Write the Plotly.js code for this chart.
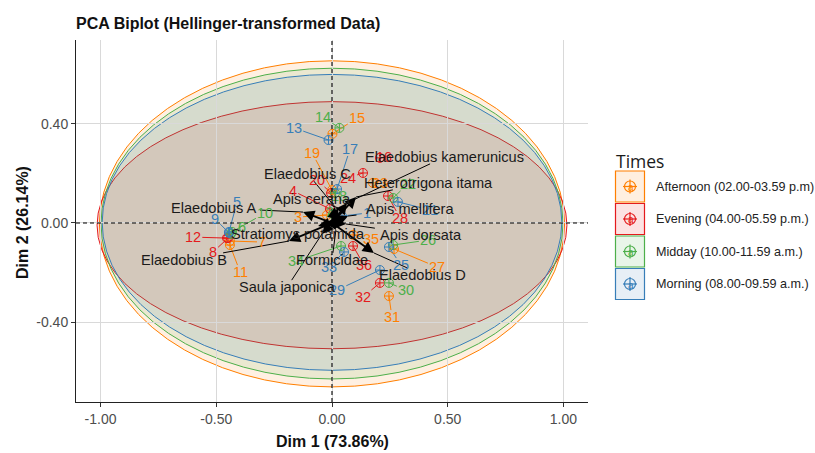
<!DOCTYPE html>
<html><head><meta charset="utf-8">
<script src="https://cdn.plot.ly/plotly-3.0.1.min.js"></script>
<style>body{margin:0;background:#fff}#chart{width:815px;height:453px}</style>
</head><body><div id="chart"></div>
<script>
// ---------- data ----------
const groupKeys = ['Afternoon','Evening','Midday','Morning'];
const groupNames = ['Afternoon (02.00-03.59 p.m)','Evening (04.00-05.59 p.m.)','Midday (10.00-11.59 a.m.)','Morning (08.00-09.59 a.m.)'];
const groupColors = ['#FF7F00','#E41A1C','#4DAF4A','#377EB8'];

const indId = [1,2,3,4,5,6,7,8,9,10,11,12,13,14,15,16,17,18,19,20,21,22,23,24,25,26,27,28,29,30,31,32,33,34,35,36];
const indGroup = ['Morning','Midday','Afternoon','Evening','Morning','Midday','Afternoon','Evening','Morning','Midday','Afternoon','Evening',
  'Morning','Midday','Afternoon','Evening','Morning','Midday','Afternoon','Evening','Morning','Midday','Afternoon','Evening',
  'Morning','Midday','Afternoon','Evening','Morning','Midday','Afternoon','Evening','Morning','Midday','Afternoon','Evening'];
const indX = [0.043,0.004,-0.022,-0.009,-0.445,-0.436,-0.441,-0.449,-0.445,-0.432,-0.441,-0.454,
  -0.015,0.032,0.002,0.207,0.022,0.013,0.000,-0.004,0.285,0.264,0.177,0.134,
  0.246,0.264,0.268,0.242,0.207,0.246,0.246,0.207,0.052,0.039,0.091,0.091];
const indY = [0.028,0.036,0.032,0.057,-0.036,-0.044,-0.073,-0.061,-0.040,-0.036,-0.089,-0.061,
  0.335,0.384,0.360,0.263,0.137,0.121,0.133,0.121,0.085,0.101,0.162,0.202,
  -0.097,-0.089,-0.105,0.109,-0.190,-0.242,-0.295,-0.242,-0.117,-0.093,-0.048,-0.093];
const indLabelX = [0.151,-0.009,-0.147,-0.168,-0.410,-0.389,-0.302,-0.514,-0.505,-0.289,-0.397,-0.600,
  -0.164,-0.039,0.108,0.225,0.078,0.030,-0.086,-0.065,0.423,0.328,0.207,0.069,
  0.298,0.415,0.454,0.294,0.022,0.320,0.259,0.134,-0.013,-0.156,0.168,0.138];
const indLabelY = [0.040,0.044,0.024,0.129,0.085,-0.016,-0.077,-0.117,0.016,0.040,-0.198,-0.057,
  0.384,0.428,0.424,0.267,0.299,0.109,0.283,0.174,0.053,0.158,0.162,0.182,
  -0.170,-0.069,-0.178,0.020,-0.271,-0.271,-0.380,-0.299,-0.178,-0.154,-0.065,-0.170];

const varNames = ['Elaedobius A','Elaedobius B','Stratiomys potamida','Apis cerana','Heterotrigona itama','Elaedobius kamerunicus',
  'Apis mellifera','Apis dorsata','Elaedobius D','Formicidae','Saula japonica','Elaedobius C'];
const varX = [-0.125,-0.186,-0.060,0.026,0.104,0.065,0.069,0.060,0.181,0.017,-0.043,0.013];
const varY = [0.044,-0.073,-0.012,0.061,0.105,0.081,0.028,-0.004,-0.121,-0.028,-0.044,0.065];
const varLabelX = [-0.510,-0.639,-0.147,-0.086,0.419,0.488,0.337,0.384,0.393,0.000,-0.194,-0.104];
const varLabelY = [0.061,-0.149,-0.044,0.097,0.162,0.267,0.057,-0.048,-0.210,-0.149,-0.259,0.198];

const ellGroup = ['Afternoon','Evening','Midday','Morning'];
const ellX0 = [-1.005,-1.015,-0.998,-0.993];
const ellX1 = [1.005,1.015,0.998,0.993];
const ellY0 = [-0.662,-0.508,-0.630,-0.595];
const ellY1 = [0.655,0.490,0.625,0.600];

const xTickVals = [-1,-0.5,0,0.5,1];
const xTickText = ['-1.00','-0.50','0.00','0.50','1.00'];
const yTickVals = [-0.4,0,0.4];
const yTickText = ['-0.40','0.00','0.40'];

// ---------- geometry helpers ----------
const L=76, T=40, W=512, H=362;
const xr=[-1.106,1.106], yr=[-0.723,0.739];
const kx = W/(xr[1]-xr[0]), ky = H/(yr[1]-yr[0]);
const FONT='Liberation Sans, Arial, sans-serif';
function colorOf(g){return groupColors[groupKeys.indexOf(g)];}
function rgba(hex,a){const n=parseInt(hex.slice(1),16);return `rgba(${n>>16},${(n>>8)&255},${n&255},${a})`;}
function px(xp){return (xp-L)/W;}
function py(yp){return (T+H-yp)/H;}
function seg(lx,ly,tx,ty,halfW,halfH){
  const dx=(tx-lx)*kx, dy=(ty-ly)*ky;
  const len=Math.hypot(dx,dy);
  if(len<1e-6) return null;
  const t=Math.min(halfW/Math.max(Math.abs(dx),1e-6), halfH/Math.max(Math.abs(dy),1e-6));
  if(t>=1) return null;
  if(len*(1-t)<4) return null;
  return [lx+(tx-lx)*t, ly+(ty-ly)*t];
}

const traces=[];
groupKeys.forEach((g,gi)=>{
  const sx=[],sy=[];
  indId.forEach((id,i)=>{
    if(indGroup[i]!==g) return;
    const s=seg(indLabelX[i],indLabelY[i],indX[i],indY[i],String(id).length*4.1+1,7);
    if(s){sx.push(s[0],indX[i],null);sy.push(s[1],indY[i],null);}
  });
  traces.push({x:sx,y:sy,mode:'lines',type:'scatter',line:{color:groupColors[gi],width:1},hoverinfo:'skip',showlegend:false});
});
groupKeys.forEach((g,gi)=>{
  const xs=[],ys=[];
  indId.forEach((id,i)=>{if(indGroup[i]===g){xs.push(indX[i]);ys.push(indY[i]);}});
  traces.push({x:xs,y:ys,mode:'markers',type:'scatter',name:groupNames[gi],
    marker:{symbol:'circle-cross-open',size:9,color:groupColors[gi],line:{width:1,color:groupColors[gi]}},showlegend:false});
});
{
  const sx=[],sy=[];
  varNames.forEach((n,i)=>{
    const s=seg(varLabelX[i],varLabelY[i],varX[i],varY[i],n.length*3.75+1,7);
    if(s){sx.push(s[0],varX[i],null);sy.push(s[1],varY[i],null);}
  });
  traces.push({x:sx,y:sy,mode:'lines',type:'scatter',line:{color:'#000',width:1},hoverinfo:'skip',showlegend:false});
}

const shapes=[];
ellGroup.forEach((g,i)=>{
  const c=colorOf(g);
  shapes.push({type:'circle',xref:'x',yref:'y',x0:ellX0[i],x1:ellX1[i],y0:ellY0[i],y1:ellY1[i],
    fillcolor:rgba(c,0.115),line:{color:c,width:1},layer:'below'});
});
shapes.push({type:'line',xref:'x',yref:'paper',x0:0,x1:0,y0:0,y1:1,line:{color:'#000',width:1.1,dash:'4px,3px'},layer:'above'});
shapes.push({type:'line',xref:'paper',yref:'y',x0:0,x1:1,y0:0,y1:0,line:{color:'#000',width:1.1,dash:'4px,3px'},layer:'above'});

const annotations=[];
indId.forEach((id,i)=>{
  annotations.push({x:indLabelX[i],y:indLabelY[i],xref:'x',yref:'y',text:String(id),showarrow:false,
    font:{family:FONT,size:14.5,color:colorOf(indGroup[i])}});
});
varNames.forEach((n,i)=>{
  annotations.push({x:varX[i],y:varY[i],ax:0,ay:0,axref:'x',ayref:'y',xref:'x',yref:'y',text:'',showarrow:true,
    arrowhead:2,arrowsize:1.25,arrowwidth:1.8,arrowcolor:'#000',standoff:0,startstandoff:0});
});
varNames.forEach((n,i)=>{
  annotations.push({x:varLabelX[i],y:varLabelY[i],xref:'x',yref:'y',text:n,showarrow:false,
    font:{family:FONT,size:14.6,color:'#1a1a1a'}});
});
annotations.push({xref:'paper',yref:'paper',x:px(332),y:py(441),text:'<b>Dim 1 (73.86%)</b>',showarrow:false,
  font:{family:FONT,size:16,color:'#111'},yanchor:'middle'});
annotations.push({xref:'paper',yref:'paper',x:px(22),y:py(223),text:'<b>Dim 2 (26.14%)</b>',showarrow:false,textangle:-90,
  font:{family:FONT,size:16,color:'#111'},xanchor:'center',yanchor:'middle'});

annotations.push({xref:'paper',yref:'paper',x:px(614),y:py(161),xanchor:'left',yanchor:'middle',text:'Times',showarrow:false,
  font:{family:'Open Sans, Noto Sans, sans-serif',size:17.5,color:'#1a1a1a'}});
const legCY=[186.5,219,251.5,284];
groupKeys.forEach((g,gi)=>{
  const c=groupColors[gi], cy=legCY[gi];
  shapes.push({type:'rect',xref:'paper',yref:'paper',x0:px(615.5),x1:px(644.5),y0:py(cy+15.5),y1:py(cy-15.5),
    fillcolor:rgba(c,0.12),line:{color:c,width:1.2}});
  shapes.push({type:'circle',xref:'paper',yref:'paper',x0:px(624.5),x1:px(635.5),y0:py(cy+5.5),y1:py(cy-5.5),
    line:{color:c,width:1.2}});
  shapes.push({type:'line',xref:'paper',yref:'paper',x0:px(623),x1:px(637),y0:py(cy),y1:py(cy),line:{color:c,width:1.2}});
  shapes.push({type:'line',xref:'paper',yref:'paper',x0:px(630),x1:px(630),y0:py(cy-7),y1:py(cy+7),line:{color:c,width:1.2}});
  annotations.push({xref:'paper',yref:'paper',x:px(630.5),y:py(cy+1),text:'a',showarrow:false,xanchor:'center',yanchor:'middle',
    font:{family:FONT,size:10,color:c}});
  annotations.push({xref:'paper',yref:'paper',x:px(654),y:py(cy),text:groupNames[gi],showarrow:false,xanchor:'left',yanchor:'middle',
    font:{family:FONT,size:12.6,color:'#222'}});
});

const layout={
  width:815,height:453,margin:{l:L,r:815-L-W,t:T,b:453-T-H,pad:0},
  paper_bgcolor:'#fff',plot_bgcolor:'#fff',showlegend:false,
  title:{text:'<b>PCA Biplot (Hellinger-transformed Data)</b>',xref:'container',yref:'container',x:76/815,xanchor:'left',
    y:1-23/453,yanchor:'middle',font:{family:FONT,size:16,color:'#111'}},
  xaxis:{range:xr,tickvals:xTickVals,ticktext:xTickText,showgrid:true,gridcolor:'#d9d9d9',gridwidth:1,zeroline:false,
    showline:true,linecolor:'#222',linewidth:1,ticks:'outside',ticklen:4,tickcolor:'#333',
    tickfont:{family:FONT,size:14,color:'#4d4d4d'},fixedrange:true},
  yaxis:{range:yr,tickvals:yTickVals,ticktext:yTickText,showgrid:true,gridcolor:'#d9d9d9',gridwidth:1,zeroline:false,
    showline:true,linecolor:'#222',linewidth:1,ticks:'outside',ticklen:4,tickcolor:'#333',
    tickfont:{family:FONT,size:14,color:'#4d4d4d'},fixedrange:true},
  shapes:shapes,annotations:annotations
};
Plotly.newPlot('chart',traces,layout,{displayModeBar:false,staticPlot:true});
</script></body></html>
